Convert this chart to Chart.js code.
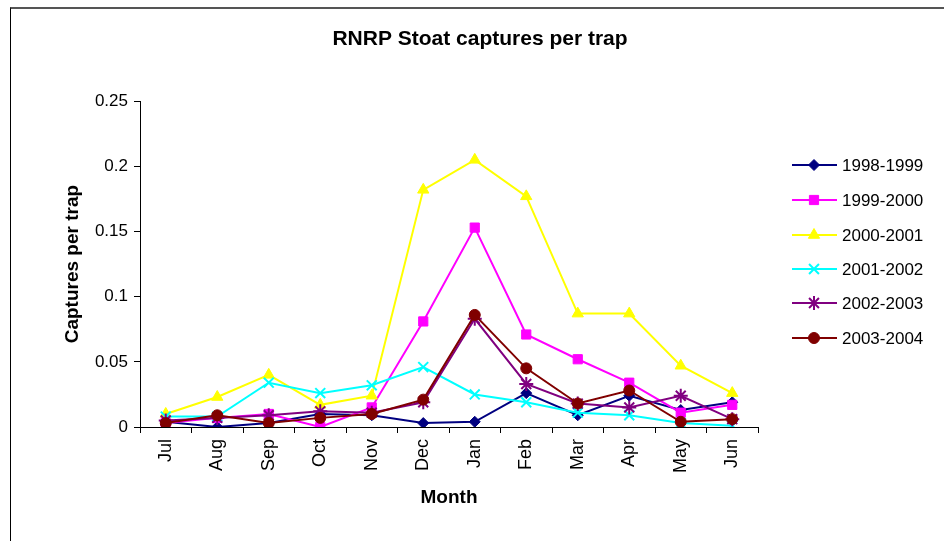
<!DOCTYPE html>
<html>
<head>
<meta charset="utf-8">
<script src="https://cdn.jsdelivr.net/npm/chart.js@4.4.1/dist/chart.umd.min.js"></script>
<style>
    body { margin: 0; background: #fff; }
    #wrap { position: relative; width: 944px; height: 541px; overflow: hidden; }
    #frame {
        position: absolute; left: 10px; top: 7px; width: 1000px; height: 600px;
        border-left: 1px solid #000; border-top: 2px solid #555;
    }
    #chart { position: absolute; left: 0; top: 0; }
</style>
</head>
<body>
<div id="wrap">
    <div id="frame"></div>
    <canvas id="chart" width="944" height="541"></canvas>
</div>
<script>
// Months of the trapping year
const months = ['Jul', 'Aug', 'Sep', 'Oct', 'Nov', 'Dec', 'Jan', 'Feb', 'Mar', 'Apr', 'May', 'Jun'];

// Captures per trap, one array per season
const s1998 = [0.004, 0.000, 0.003, 0.010, 0.009, 0.003, 0.004, 0.026, 0.009, 0.024, 0.013, 0.019];
const s1999 = [0.003, 0.007, 0.010, 0.000, 0.015, 0.081, 0.153, 0.071, 0.052, 0.034, 0.011, 0.017];
const s2000 = [0.010, 0.023, 0.040, 0.017, 0.024, 0.182, 0.205, 0.177, 0.087, 0.087, 0.047, 0.026];
const s2001 = [0.008, 0.008, 0.034, 0.026, 0.032, 0.046, 0.025, 0.019, 0.011, 0.009, 0.003, 0.001];
const s2002 = [0.005, 0.007, 0.009, 0.012, 0.011, 0.019, 0.083, 0.033, 0.018, 0.015, 0.024, 0.006];
const s2003 = [0.003, 0.009, 0.003, 0.007, 0.010, 0.021, 0.086, 0.045, 0.018, 0.028, 0.004, 0.006];

const seasonLabels = ['1998-1999', '1999-2000', '2000-2001', '2001-2002', '2002-2003', '2003-2004'];
const seasonData = [s1998, s1999, s2000, s2001, s2002, s2003];
const seasonColors = ['#000080', '#FF00FF', '#FFFF00', '#00FFFF', '#800080', '#800000'];
const seasonMarkers = ['rectRot', 'rect', 'triangle', 'crossRot', 'star', 'circle'];
const markerSizes = [5.5, 6.5, 6.5, 7, 7, 5.5];

const FONT = 'Arial, "Liberation Sans", sans-serif';

// Legend drawn as line + marker, the way the spreadsheet does it
const lineLegend = {
    id: 'lineLegend',
    afterDraw(chart) {
        const ctx = chart.ctx;
        const rowY = [165, 200, 235, 269, 303, 338];
        ctx.save();
        chart.data.datasets.forEach((ds, i) => {
            const y = rowY[i];
            ctx.strokeStyle = ds.borderColor;
            ctx.lineWidth = 2;
            ctx.beginPath();
            ctx.moveTo(792, y);
            ctx.lineTo(837, y);
            ctx.stroke();
            ctx.fillStyle = ds.backgroundColor;
            ctx.strokeStyle = ds.borderColor;
            ctx.lineWidth = ds.pointBorderWidth;
            Chart.helpers.drawPoint(ctx, {
                pointStyle: ds.pointStyle,
                radius: ds.pointRadius,
                rotation: 0,
                borderWidth: ds.pointBorderWidth
            }, 814, y);
            ctx.fillStyle = '#000';
            ctx.font = '17px ' + FONT;
            ctx.textBaseline = 'middle';
            ctx.textAlign = 'left';
            ctx.fillText(seasonLabels[i], 842, y + 1);
        });
        ctx.restore();
    }
};

const datasets = seasonLabels.map((label, i) => ({
    label: label,
    data: seasonData[i],
    yAxisID: 'y',
    borderColor: seasonColors[i],
    backgroundColor: seasonColors[i],
    borderWidth: 2,
    pointStyle: seasonMarkers[i],
    pointRadius: markerSizes[i],
    pointBorderWidth: seasonMarkers[i] === 'crossRot' || seasonMarkers[i] === 'star' ? 2 : 1,
    pointBackgroundColor: seasonColors[i],
    pointBorderColor: seasonColors[i],
    tension: 0,
    order: seasonLabels.length - i
}));

new Chart(document.getElementById('chart'), {
    type: 'line',
    data: { labels: months, datasets: datasets },
    options: {
        responsive: false,
        animation: false,
        layout: { padding: { left: 16, right: 0, top: 0, bottom: 0 } },
        plugins: {
            legend: { display: false },
            tooltip: { enabled: false },
            title: {
                display: true,
                text: 'RNRP Stoat captures per trap',
                color: '#000',
                font: { family: FONT, size: 21, weight: 'bold' },
                padding: { top: 27, bottom: 49 }
            }
        },
        scales: {
            x: {
                offset: true,
                grid: { offset: true, drawOnChartArea: false, tickLength: 6, color: '#000' },
                border: { color: '#000', width: 1 },
                ticks: {
                    color: '#000',
                    font: { family: FONT, size: 18 },
                    maxRotation: 90,
                    minRotation: 90,
                    padding: 6
                },
                title: {
                    display: true,
                    text: 'Month',
                    color: '#000',
                    font: { family: FONT, size: 19, weight: 'bold' },
                    padding: { top: 0, bottom: 32 }
                },
                afterFit: scale => { scale.height = 114; }
            },
            y: {
                position: 'left',
                min: 0,
                max: 0.25,
                grid: { drawOnChartArea: false, tickLength: 6, color: '#000' },
                border: { color: '#000', width: 1 },
                ticks: {
                    stepSize: 0.05,
                    color: '#000',
                    font: { family: FONT, size: 17 },
                    padding: 6,
                    // 0, 0.05, 0.1 ... like the spreadsheet, no trailing zeros
                    callback: value => String(parseFloat(value.toFixed(2)))
                },
                title: {
                    display: true,
                    text: 'Captures per trap',
                    color: '#000',
                    font: { family: FONT, size: 19, weight: 'bold' },
                    padding: { top: 45, bottom: 0 }
                },
                afterFit: scale => { scale.width = 124; }
            },
            y2: {
                position: 'right',
                min: 0,
                max: 0.25,
                grid: { display: false },
                border: { display: false },
                ticks: { display: false },
                afterFit: scale => { scale.width = 186; }
            }
        }
    },
    plugins: [lineLegend]
});
</script>
</body>
</html>
